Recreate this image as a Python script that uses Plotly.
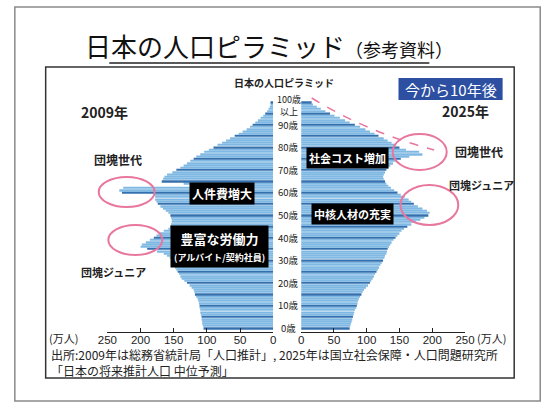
import plotly.graph_objects as go

# ---------------- data ----------------
ages = list(range(0, 101))
pop_2009 = [
    105, 106, 107, 107, 108, 108, 109, 110, 110, 111,
    111, 112, 113, 114, 116, 118, 119, 120, 123, 126,
    130, 134, 138, 140, 142, 144, 146, 148, 149, 150,
    152, 156, 160, 165, 175, 190, 200, 198, 192, 186,
    180, 176, 172, 165, 158, 155, 154, 153, 153, 154,
    155, 158, 162, 166, 170, 174, 176, 178, 178, 180,
    228, 232, 226, 124, 135, 168, 166, 164, 160, 152,
    146, 140, 135, 130, 125, 120, 116, 110, 104, 97,
    90, 84, 77, 71, 65, 58, 52, 46, 40, 35,
    31, 27, 23, 19, 15, 12, 9, 7, 5, 4,
    4,
]
pop_2025 = [
    74, 75, 76, 77, 78, 79, 80, 81, 82, 84,
    85, 86, 87, 88, 90, 92, 94, 96, 99, 102,
    105, 107, 109, 111, 113, 115, 117, 119, 121, 123,
    125, 127, 128, 130, 131, 132, 134, 136, 138, 141,
    144, 147, 150, 153, 157, 162, 168, 175, 182, 188,
    194, 196, 192, 185, 178, 172, 168, 164, 158, 152,
    147, 142, 137, 133, 130, 128, 126, 125, 126, 128,
    130, 133, 136, 140, 145, 152, 165, 185, 180, 160,
    150, 145, 138, 132, 126, 118, 112, 105, 98, 90,
    82, 74, 67, 59, 51, 44, 37, 30, 24, 18,
    16,
]
x_ticks = [0, 50, 100, 150, 200, 250]
age_labels = ["0歳", "10歳", "20歳", "30歳", "40歳", "50歳", "60歳", "70歳", "80歳", "90歳", "100歳<br>以上"]
age_label_vals = [0, 10, 20, 30, 40, 50, 60, 70, 80, 90, 100]

# ---------------- layout helpers ----------------
W, H = 556, 408
def px(x): return x / W
def py(y): return 1 - y / H

LIGHT = "#7fb8e3"
DARK = "#3570ae"
colors = [DARK if a % 5 == 0 else LIGHT for a in ages]
JP = "Noto Sans CJK JP"

fig = go.Figure()
fig.add_trace(go.Bar(x=pop_2009, y=ages, orientation="h", marker_color=colors,
                     marker_line_width=0, xaxis="x", yaxis="y", showlegend=False))
fig.add_trace(go.Bar(x=pop_2025, y=ages, orientation="h", marker_color=colors,
                     marker_line_width=0, xaxis="x2", yaxis="y", showlegend=False))

axis_common = dict(tickvals=x_ticks, ticktext=[str(t) for t in x_ticks], showline=True,
                   linecolor="#222", linewidth=1, ticks="inside", ticklen=4, tickcolor="#222",
                   showgrid=False, zeroline=False, anchor="y", ticklabelstandoff=-3,
                   tickfont=dict(family="Liberation Sans", size=11.5, color="#222"), fixedrange=True)
fig.update_layout(
    width=W, height=H, margin=dict(l=0, r=0, t=0, b=0),
    paper_bgcolor="white", plot_bgcolor="rgba(0,0,0,0)",
    bargap=0.32,
    xaxis=dict(domain=[px(101), px(273)], range=[250, 0], **axis_common),
    xaxis2=dict(domain=[px(302), px(472)], range=[0, 250], **axis_common),
    yaxis=dict(domain=[py(332), py(99.7)], range=[-1.77, 101], visible=False, anchor="x", fixedrange=True),
)

shapes = []
# outer frame
shapes.append(dict(type="rect", xref="paper", yref="paper", x0=px(5), x1=px(550), y0=py(401), y1=py(7),
                   line=dict(color="#8a8a8a", width=1.5)))
# inner frame
shapes.append(dict(type="rect", xref="paper", yref="paper", x0=px(37), x1=px(523), y0=py(378), y1=py(67),
                   line=dict(color="#333", width=1.5)))
# title underline
shapes.append(dict(type="line", xref="paper", yref="paper", x0=px(103), x1=px(435), y0=py(63), y1=py(63),
                   line=dict(color="#222", width=1.5)))
# blue box
shapes.append(dict(type="rect", xref="paper", yref="paper", x0=px(403), x1=px(511), y0=py(100), y1=py(78),
                   fillcolor="#2c4fa2", line=dict(width=0)))
# pink ellipses
PINK = "#e8769e"
for cx, cy, rx, ry in [(121, 192, 29, 15), (130, 240, 28, 15), (425, 152, 28, 18), (435, 205, 30, 20)]:
    shapes.append(dict(type="circle", xref="paper", yref="paper", x0=px(cx - rx), x1=px(cx + rx),
                       y0=py(cy + ry), y1=py(cy - ry), line=dict(color=PINK, width=2)))
# dashed curve
shapes.append(dict(type="path", xref="paper", yref="paper",
                   path=f"M {px(313)},{py(98)} Q {px(370)},{py(132)} {px(440)},{py(150)}",
                   line=dict(color=PINK, width=1.5, dash="dash")))
fig.update_layout(shapes=shapes)

ann = []
def text(x, y, t, size=11, color="#222", bg=None, xanchor="center", family=JP, pad=1, align="center"):
    d = dict(xref="paper", yref="paper", x=px(x), y=py(y), text=t, showarrow=False,
             xanchor=xanchor, yanchor="middle", align=align,
             font=dict(family=family, size=size, color=color))
    if bg:
        d.update(bgcolor=bg, borderpad=pad)
    ann.append(d)

# title
text(269, 45, "日本の人口ピラミッド<span style='font-size:18px'>（参考資料）</span>", size=26, color="#111")
text(284, 83, "<b>日本の人口ピラミッド</b>", size=10)
text(457, 89, "今から10年後", size=15, color="white")
text(98, 112, "<b>2009年</b>", size=14)
text(472, 111, "<b>2025年</b>", size=14)
text(112, 160, "<b>団塊世代</b>", size=12)
text(487, 151, "<b>団塊世代</b>", size=12)
text(107, 272, "<b>団塊ジュニア</b>", size=11)
text(489, 185, "<b>団塊ジュニア</b>", size=11)
text(220, 193, "<b>人件費増大</b>", size=12, color="white", bg="black", pad=2)
text(350, 158, "<b>社会コスト増加</b>", size=11, color="white", bg="black", pad=2)
text(355, 214, "<b>中核人材の充実</b>", size=11, color="white", bg="black", pad=2)
text(217, 246, "<b>豊富な労働力</b><br><span style='font-size:9px'><b>(アルバイト/契約社員)</b></span>",
     size=13, color="white", bg="black", pad=3)
# age labels
for v, lab in zip(age_label_vals, age_labels):
    yy = 328 - 2.26 * v
    if v == 100:
        text(289, 105.5, lab, size=9)
    else:
        text(289, yy, lab, size=9.5)
# units
text(55, 338, "(万人)", size=11)
text(499, 338, "(万人)", size=11)
# source (two lines in one block)
text(40, 362, "出所:2009年は総務省統計局「人口推計」, 2025年は国立社会保障・人口問題研究所<br>"
              "「日本の将来推計人口 中位予測」",
     size=12, xanchor="left", align="left")
fig.update_layout(annotations=ann)

fig.write_html("out.html", config={"displayModeBar": False},
               post_script="document.body.style.margin='0';")
